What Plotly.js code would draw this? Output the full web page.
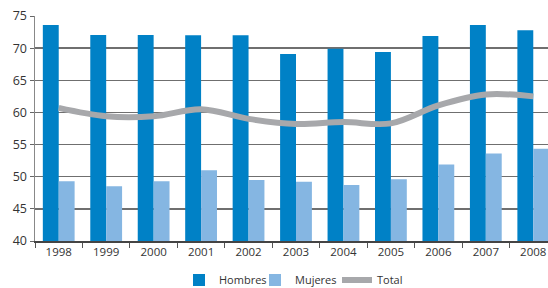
<!DOCTYPE html>
<html><head><meta charset="utf-8">
<script src="https://cdn.plot.ly/plotly-3.0.1.min.js"></script>
<style>html,body{margin:0;padding:0;overflow:hidden;background:#fff}#c{width:558px;height:288px}</style>
</head><body><div id="c"></div>
<script>
const years = ['1998','1999','2000','2001','2002','2003','2004','2005','2006','2007','2008'];
const hombres = [73.6, 72.05, 72.05, 72.0, 72.0, 69.1, 69.9, 69.4, 71.9, 73.6, 72.8];
const mujeres = [49.3, 48.5, 49.3, 51.0, 49.5, 49.2, 48.7, 49.6, 51.9, 53.6, 54.35];
const total = [60.7, 59.4, 59.4, 60.5, 59.0, 58.2, 58.5, 58.3, 61.1, 62.8, 62.5];

const font = {family: 'Open Sans, sans-serif', size: 12, color: '#333'};
const data = [
  {type: 'bar', name: 'Hombres', x: years, y: hombres, marker: {color: '#0081c6'}, legend: 'legend'},
  {type: 'bar', name: 'Mujeres', x: years, y: mujeres, marker: {color: '#85b6e2'}, legend: 'legend2'},
  {type: 'scatter', mode: 'lines', name: 'Total', x: years, y: total,
   line: {color: '#a7a8ab', width: 6, shape: 'spline', smoothing: 1}, legend: 'legend3'}
];
const W = 558;
function leg(px) {
  return {orientation: 'h', xref: 'container', yref: 'container', x: px / W, xanchor: 'left',
          y: 0.028, yanchor: 'middle', itemwidth: 30, bgcolor: 'rgba(0,0,0,0)',
          font: {family: 'Open Sans, sans-serif', size: 11, color: '#333'}};
}
const layout = {
  width: W, height: 288,
  margin: {l: 35, r: 1, t: 16, b: 47, autoexpand: false},
  paper_bgcolor: '#fff', plot_bgcolor: '#fff',
  font: font,
  barmode: 'group', bargap: 0.33, bargroupgap: 0,
  showlegend: true,
  legend: leg(179), legend2: leg(255), legend3: leg(337),
  xaxis: {type: 'category', tickson: 'boundaries', ticks: 'outside', ticklen: 5, tickcolor: '#555',
          showline: true, linecolor: '#444', linewidth: 1.5, showgrid: false,
          tickfont: {family: 'Open Sans, sans-serif', size: 11.5, color: '#333'}, fixedrange: true},
  yaxis: {range: [40, 75], dtick: 5, ticks: 'outside', ticklen: 4, tickcolor: '#666',
          showline: true, linecolor: '#888', linewidth: 1.5,
          showgrid: true, gridcolor: '#6f6f6f', gridwidth: 1.5, zeroline: false,
          tickfont: {family: 'Open Sans, sans-serif', size: 12.5, color: '#333'}, fixedrange: true}
};
Plotly.newPlot('c', data, layout, {displayModeBar: false, staticPlot: true});
</script></body></html>
